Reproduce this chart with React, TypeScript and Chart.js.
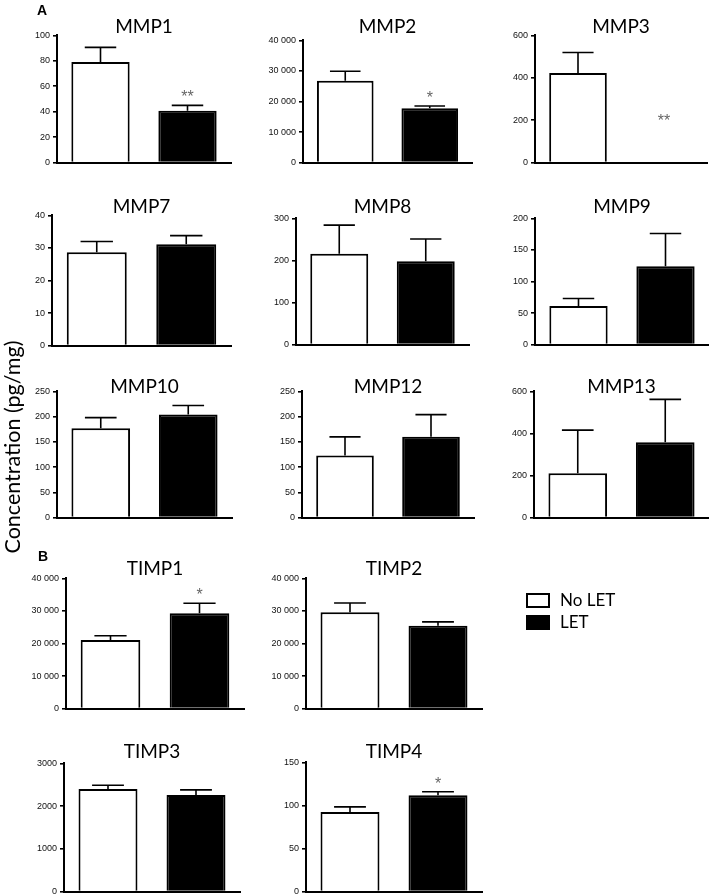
import React, { useEffect, useRef } from 'react';
import { Chart, registerables } from 'chart.js';

Chart.register(...registerables);

// ---------------- data ----------------
const groups = ['No LET', 'LET'];
const analytes = ['MMP1', 'MMP2', 'MMP3', 'MMP7', 'MMP8', 'MMP9', 'MMP10', 'MMP12', 'MMP13', 'TIMP1', 'TIMP2', 'TIMP3', 'TIMP4'];
const noLetMeans = [79, 26770, 423, 28.7, 216, 61, 177, 123, 211, 21070, 29600, 2402, 92.5];
const noLetSem = [11.6, 3130, 96, 3.3, 68, 12, 21, 37, 205, 1310, 2860, 86, 5.9];
const letMeans = [40.8, 17780, 0, 31.1, 198, 124, 204, 160, 358, 29300, 25440, 2263, 112];
const letSem = [4.2, 760, 0, 2.7, 53, 52, 18, 44, 204, 3070, 1210, 117, 4];
const axisMax = [100, 40000, 600, 40, 300, 200, 250, 250, 600, 40000, 40000, 3000, 150];
const axisStep = [20, 10000, 200, 10, 100, 50, 50, 50, 200, 10000, 10000, 1000, 50];
const letSig = ['**', '*', '**', '', '', '', '', '', '', '*', '', '', '*'];
const letSigLevel: (number | null)[] = [null, null, 215, null, null, null, null, null, null, null, null, null, null];

// ---------------- layout (panel frames, px) ----------------
const frames = [
  { l: 57, r: 231, t: 35, b: 163, ty: 26 },
  { l: 303, r: 472, t: 40, b: 163, ty: 26 },
  { l: 535, r: 707, t: 35, b: 163, ty: 26 },
  { l: 52, r: 231, t: 215, b: 346, ty: 206 },
  { l: 296, r: 469, t: 218, b: 345, ty: 206 },
  { l: 535, r: 709, t: 218, b: 345, ty: 206 },
  { l: 57, r: 232, t: 391, b: 518, ty: 386 },
  { l: 302, r: 474, t: 391, b: 518, ty: 386 },
  { l: 534, r: 709, t: 391, b: 518, ty: 386 },
  { l: 66, r: 244, t: 578, b: 709, ty: 568 },
  { l: 306, r: 482, t: 578, b: 709, ty: 568 },
  { l: 64, r: 240, t: 763, b: 892, ty: 751 },
  { l: 306, r: 482, t: 762, b: 892, ty: 751 },
];

const YW = 50;
const PT = 8;
const PR = 4;
const PB = 8;

const fmt = (v: number) => (v >= 10000 ? String(v).replace(/\B(?=(\d{3})+(?!\d))/g, ' ') : String(v));

const errorBarPlugin = {
  id: 'errorBars',
  afterDatasetsDraw(chart: any, _args: any, opts: any) {
    const { ctx } = chart;
    const meta = chart.getDatasetMeta(0);
    const ys = chart.scales.y;
    const vals = chart.data.datasets[0].data as number[];
    ctx.save();
    meta.data.forEach((bar: any, i: number) => {
      const v = vals[i];
      const e = opts.errors[i];
      const yTop = ys.getPixelForValue(v);
      const yE = ys.getPixelForValue(v + e);
      if (e > 0) {
        const half = bar.width * 0.27;
        ctx.strokeStyle = '#000';
        ctx.lineWidth = 1.6;
        ctx.beginPath();
        ctx.moveTo(bar.x, yTop);
        ctx.lineTo(bar.x, yE);
        ctx.moveTo(bar.x - half, yE);
        ctx.lineTo(bar.x + half, yE);
        ctx.stroke();
      }
      const s = opts.stars[i];
      if (s) {
        const lvl = opts.levels[i];
        const cy = lvl != null ? ys.getPixelForValue(lvl) : yE - 12;
        ctx.fillStyle = '#666';
        ctx.font = '16px "Liberation Sans"';
        ctx.textAlign = 'center';
        ctx.textBaseline = 'alphabetic';
        ctx.fillText(s, bar.x, cy + 9);
      }
    });
    ctx.restore();
  },
};

function Panel({ idx }: { idx: number }) {
  const ref = useRef<HTMLCanvasElement | null>(null);
  const f = frames[idx];
  const w = YW + (f.r - f.l) + PR;
  const h = PT + (f.b - f.t) + PB;

  useEffect(() => {
    if (!ref.current) return;
    const chart = new Chart(ref.current, {
      type: 'bar',
      data: {
        labels: groups,
        datasets: [
          {
            data: [noLetMeans[idx], letMeans[idx]],
            backgroundColor: ['#ffffff', '#000000'],
            borderColor: '#000000',
            borderWidth: 2,
            barPercentage: 0.67,
            categoryPercentage: 1,
          },
        ],
      },
      options: {
        responsive: false,
        maintainAspectRatio: false,
        animation: false,
        layout: { padding: { top: PT, right: PR, bottom: PB, left: 0 } },
        plugins: {
          legend: { display: false },
          tooltip: { enabled: false },
          title: { display: false },
          errorBars: {
            errors: [noLetSem[idx], letSem[idx]],
            stars: ['', letSig[idx]],
            levels: [null, letSigLevel[idx]],
          },
        } as any,
        scales: {
          x: {
            grid: { display: false },
            border: { display: true, color: '#000', width: 2 },
            ticks: { display: false },
            afterFit: (s: any) => {
              s.height = 0;
            },
          },
          y: {
            min: 0,
            max: axisMax[idx],
            ticks: {
              stepSize: axisStep[idx],
              font: { family: 'Liberation Sans', size: 9 },
              color: '#111',
              padding: 3,
              callback: (v: any) => fmt(Number(v)),
            },
            grid: { drawOnChartArea: false, drawTicks: true, tickLength: 4, color: '#000', lineWidth: 1.6 },
            border: { display: true, color: '#000', width: 2 },
            afterFit: (s: any) => {
              s.width = YW;
            },
          },
        },
      },
      plugins: [errorBarPlugin],
    } as any);
    return () => chart.destroy();
  }, [idx]);

  return (
    <>
      <canvas
        ref={ref}
        width={w}
        height={h}
        style={{ position: 'absolute', left: f.l - YW, top: f.t - PT, width: w, height: h }}
      />
      <div
        style={{
          position: 'absolute',
          left: (f.l + f.r) / 2 - 60,
          width: 120,
          top: f.ty - 12.5,
          height: 24,
          lineHeight: '24px',
          textAlign: 'center',
          fontFamily: 'Lato',
          fontSize: 19,
          color: '#000',
        }}
      >
        {analytes[idx]}
      </div>
    </>
  );
}

export default function App() {
  return (
    <div
      style={{
        position: 'absolute',
        left: 0,
        top: 0,
        width: 709,
        height: 896,
        overflow: 'hidden',
        background: '#fff',
      }}
    >
      {analytes.map((_, i) => (
        <Panel key={i} idx={i} />
      ))}
      <div style={{ position: 'absolute', left: 37, top: 1, font: 'bold 14px "Liberation Sans"', lineHeight: '18px' }}>A</div>
      <div style={{ position: 'absolute', left: 38, top: 547, font: 'bold 14px "Liberation Sans"', lineHeight: '18px' }}>B</div>
      <div
        style={{
          position: 'absolute',
          left: 12 - 150,
          top: 447 - 13,
          width: 300,
          height: 26,
          lineHeight: '26px',
          textAlign: 'center',
          fontFamily: 'Lato',
          fontSize: 21.5,
          transform: 'rotate(-90deg)',
          transformOrigin: '150px 13px',
          whiteSpace: 'nowrap',
        }}
      >
        Concentration (pg/mg)
      </div>
      <div
        style={{
          position: 'absolute',
          left: 526,
          top: 593,
          width: 24,
          height: 15,
          border: '2px solid #000',
          boxSizing: 'border-box',
          background: '#fff',
        }}
      />
      <div style={{ position: 'absolute', left: 526, top: 615, width: 24, height: 15, background: '#000' }} />
      <div style={{ position: 'absolute', left: 560, top: 589, lineHeight: '22px', fontFamily: 'Lato', fontSize: 17 }}>No LET</div>
      <div style={{ position: 'absolute', left: 560, top: 611, lineHeight: '22px', fontFamily: 'Lato', fontSize: 17 }}>LET</div>
    </div>
  );
}
